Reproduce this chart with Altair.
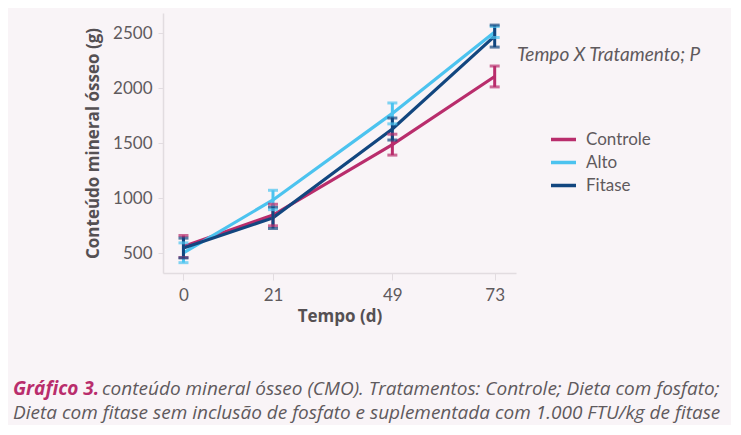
import altair as alt
import pandas as pd

# ---- data ----
tempo = [0, 21, 49, 73]
tratamentos = ["Controle", "Alto", "Fitase"]
controle_mean = [562, 848, 1488, 2108]
controle_err = [100, 98, 95, 95]
alto_mean = [505, 985, 1772, 2512]
alto_err = [90, 88, 95, 50]
fitase_mean = [548, 822, 1630, 2475]
fitase_err = [90, 96, 100, 100]
cores = ["#b92d6c", "#4cc3ef", "#12467f"]

rows = []
for nome, m, e in [("Controle", controle_mean, controle_err),
                   ("Alto", alto_mean, alto_err),
                   ("Fitase", fitase_mean, fitase_err)]:
    for t, mv, ev in zip(tempo, m, e):
        rows.append({"tempo": t, "trat": nome, "cmo": mv, "lo": mv - ev, "hi": mv + ev,
                     "ordem": tratamentos.index(nome)})
df = pd.DataFrame(rows)

FONT = "Lato"
TFONT = "Open Sans"
GRAY = "#5f5a5d"
BG = "#f9f4f7"

xscale = alt.Scale(domain=[-4.8, 78], nice=False, zero=False)
yscale = alt.Scale(domain=[321, 2685], nice=False, zero=False)
color = alt.Color("trat:N", scale=alt.Scale(domain=tratamentos, range=cores),
                  legend=alt.Legend(title=None, orient="none", legendX=386, legendY=112,
                                    symbolType="stroke", symbolSize=625, symbolStrokeWidth=3.5,
                                    labelFont=FONT, labelFontSize=17, labelColor=GRAY,
                                    rowPadding=0, labelOffset=8))

base = alt.Chart(df)

lines = base.mark_line(strokeWidth=3.2).encode(
    x=alt.X("tempo:Q", scale=xscale,
            axis=alt.Axis(values=tempo, title="Tempo (d)", tickSize=7, labelPadding=7,
                          titlePadding=5, format="d")),
    y=alt.Y("cmo:Q", scale=yscale,
            axis=alt.Axis(values=[500, 1000, 1500, 2000, 2500], title="Conteúdo mineral ósseo (g)",
                          tickSize=5, labelPadding=6, titlePadding=10, format="d")),
    color=color,
    order="ordem:Q",
)

nocolor = alt.Color("trat:N", scale=alt.Scale(domain=tratamentos, range=cores), legend=None)
rules = base.mark_rule(strokeWidth=3).encode(x="tempo:Q", y="lo:Q", y2="hi:Q", color=nocolor)
caps_top = base.mark_tick(orient="horizontal", size=10, thickness=3).encode(
    x="tempo:Q", y="hi:Q", color=nocolor)
caps_bot = base.mark_tick(orient="horizontal", size=10, thickness=3).encode(
    x="tempo:Q", y="lo:Q", color=nocolor)

anot = alt.Chart(pd.DataFrame({"t": ["Tempo X Tratamento; P"]})).mark_text(
    align="left", baseline="middle", font=FONT, fontSize=19, fontStyle="italic", color=GRAY
).encode(text="t:N", x=alt.value(354), y=alt.value(42))

CAPSIZE = 19
cap1 = alt.Chart(pd.DataFrame({"t": ["Gráfico 3."]})).mark_text(
    align="left", baseline="alphabetic", font=TFONT, fontSize=CAPSIZE, fontStyle="italic",
    fontWeight="bold", color="#b92d6c"
).encode(text="t:N", x=alt.value(-150), y=alt.value(382))

cap2 = alt.Chart(pd.DataFrame({"t": ["conteúdo mineral ósseo (CMO). Tratamentos: Controle; Dieta com fosfato;"]})).mark_text(
    align="left", baseline="alphabetic", font=TFONT, fontSize=CAPSIZE, fontStyle="italic", color=GRAY
).encode(text="t:N", x=alt.value(-61), y=alt.value(382))

cap3 = alt.Chart(pd.DataFrame({"t": ["Dieta com fitase sem inclusão de fosfato e suplementada com 1.000 FTU/kg de fitase"]})).mark_text(
    align="left", baseline="alphabetic", font=TFONT, fontSize=CAPSIZE, fontStyle="italic", color=GRAY
).encode(text="t:N", x=alt.value(-150), y=alt.value(406))

chart = alt.layer(lines, rules, caps_top, caps_bot, anot, cap1, cap2, cap3).properties(
    width=353, height=260, background=BG,
    autosize=alt.AutoSizeParams(type="none"),
    padding={"left": 155, "top": 5, "right": 215, "bottom": 152},
).configure_view(stroke="transparent").configure_axis(
    grid=False, domainColor="#e2dce0", tickColor="#e2dce0", domainWidth=1.5,
    labelFont=FONT, labelFontSize=17, labelColor=GRAY,
    titleFont=TFONT, titleFontSize=17, titleFontWeight="bold", titleColor="#555053",
)

chart.save("out.html", embed_options={"renderer": "svg", "actions": False})
